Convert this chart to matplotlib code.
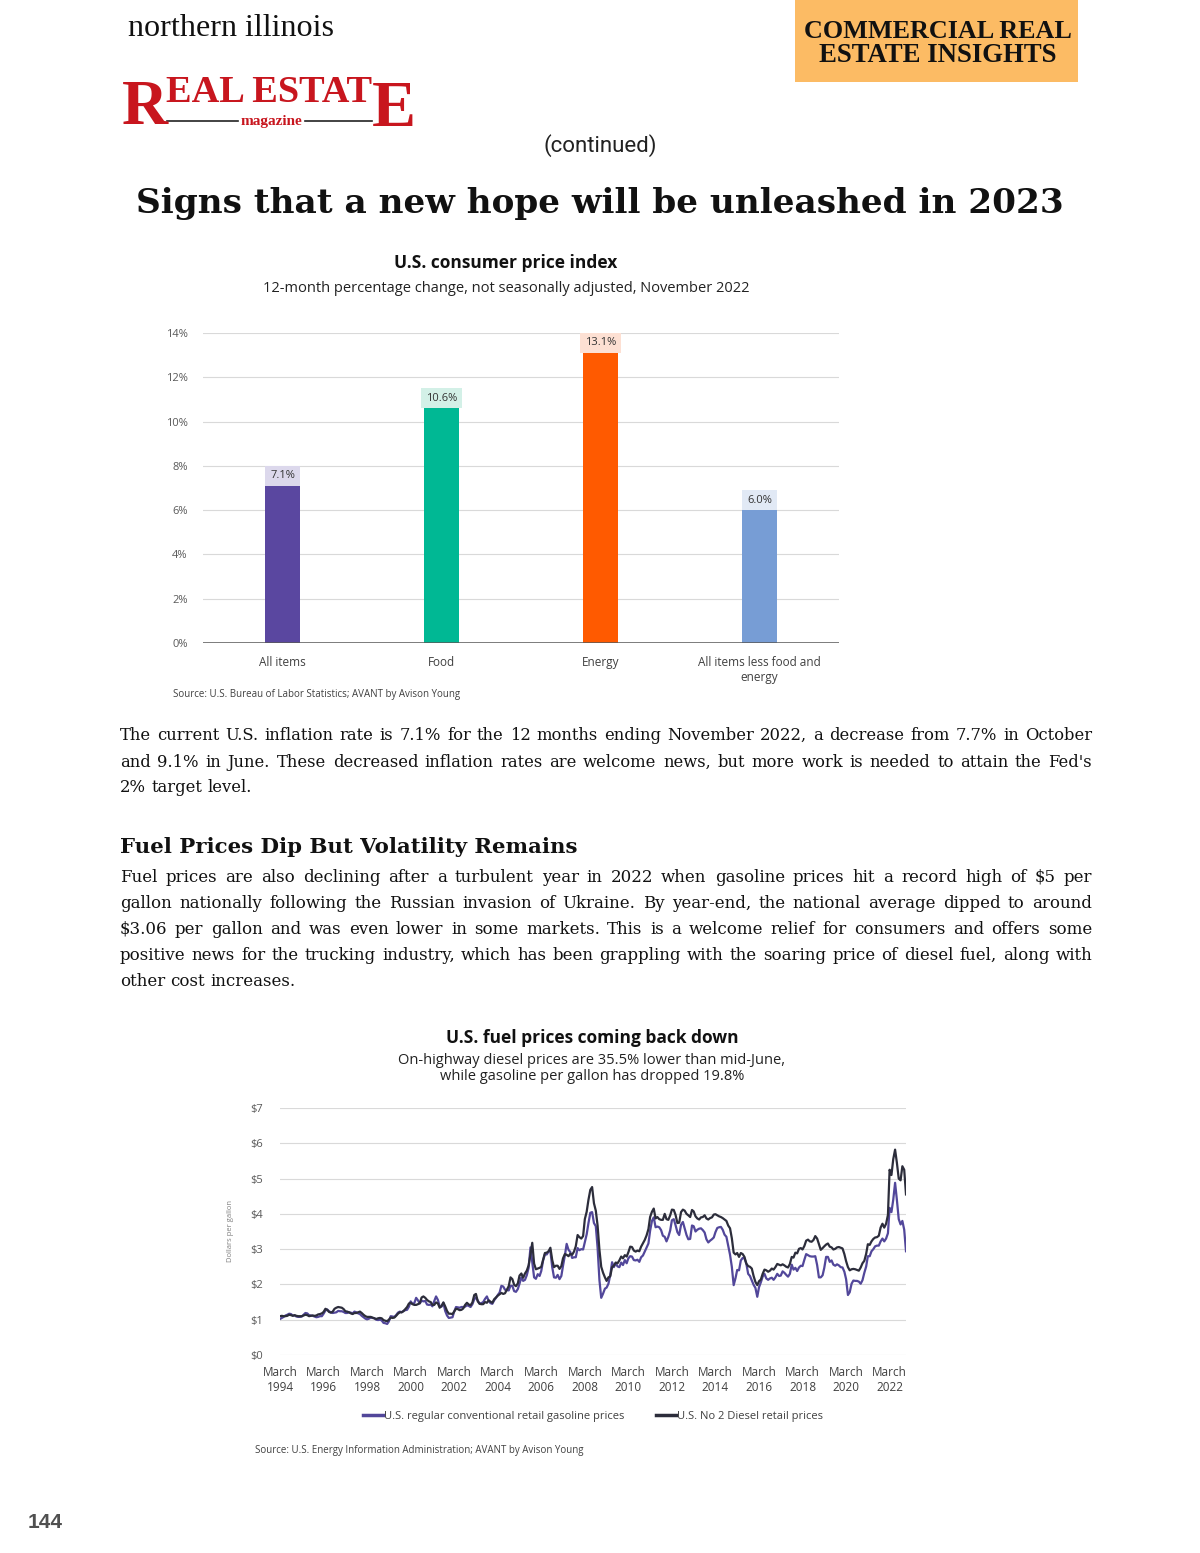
import matplotlib
matplotlib.use("Agg")
import matplotlib.pyplot as plt
import matplotlib.patches as mpatches
from matplotlib.lines import Line2D
import pandas as pd

W, H, DPI = 1200, 1553, 100

# ---------------- data ----------------
cpi_categories = ["All items", "Food", "Energy", "All items less food and\nenergy"]
cpi_values = [7.1, 10.6, 13.1, 6.0]
cpi_value_labels = ["7.1%", "10.6%", "13.1%", "6.0%"]
cpi_colors = ["#5a47a0", "#00b894", "#ff5a00", "#779dd5"]
cpi_label_bg = ["#dcd8ec", "#d3f0e7", "#fde0d3", "#e1e9f5"]
cpi_yticks = [0, 2, 4, 6, 8, 10, 12, 14]
cpi_ytick_labels = ["0%", "2%", "4%", "6%", "8%", "10%", "12%", "14%"]

fuel_start, fuel_end = "1994-03-01", "2022-12-01"
gasoline = [
    1.02, 1.05, 1.08, 1.12, 1.14, 1.17, 1.16, 1.12, 1.12, 1.09,  # 1994 Mar-Dec
    1.08, 1.08, 1.09, 1.14, 1.19, 1.18, 1.13, 1.12, 1.11, 1.09, 1.07, 1.08,  # 1995
    1.10, 1.10, 1.17, 1.26, 1.29, 1.24, 1.21, 1.19, 1.20, 1.21, 1.25, 1.24,  # 1996
    1.24, 1.22, 1.19, 1.19, 1.21, 1.20, 1.18, 1.23, 1.21, 1.18, 1.16, 1.11,  # 1997
    1.07, 1.03, 1.01, 1.03, 1.06, 1.05, 1.04, 1.00, 0.99, 1.00, 0.98, 0.91,  # 1998
    0.90, 0.88, 0.95, 1.10, 1.09, 1.08, 1.13, 1.20, 1.23, 1.21, 1.25, 1.27,  # 1999
    1.28, 1.37, 1.52, 1.45, 1.47, 1.62, 1.55, 1.46, 1.54, 1.52, 1.53, 1.43,  # 2000
    1.42, 1.43, 1.38, 1.53, 1.66, 1.56, 1.38, 1.37, 1.48, 1.25, 1.12, 1.05,  # 2001
    1.06, 1.07, 1.23, 1.36, 1.35, 1.34, 1.36, 1.36, 1.37, 1.41, 1.39, 1.36,  # 2002
    1.44, 1.58, 1.63, 1.54, 1.46, 1.47, 1.50, 1.59, 1.66, 1.53, 1.47, 1.45,  # 2003
    1.55, 1.62, 1.70, 1.77, 1.96, 1.94, 1.85, 1.84, 1.83, 1.96, 1.96, 1.81,  # 2004
    1.79, 1.87, 2.02, 2.20, 2.10, 2.13, 2.26, 2.47, 3.05, 2.62, 2.20, 2.16,  # 2005
    2.29, 2.24, 2.38, 2.68, 2.85, 2.85, 2.93, 2.95, 2.49, 2.20, 2.19, 2.27,  # 2006
    2.15, 2.24, 2.53, 2.82, 3.15, 2.98, 2.92, 2.75, 2.77, 2.77, 3.03, 2.97,  # 2007
    3.00, 2.99, 3.20, 3.42, 3.74, 4.03, 4.05, 3.74, 3.65, 3.04, 2.12, 1.62,  # 2008
    1.74, 1.88, 1.91, 2.02, 2.26, 2.63, 2.49, 2.60, 2.51, 2.49, 2.62, 2.55,  # 2009
    2.69, 2.60, 2.74, 2.80, 2.79, 2.69, 2.68, 2.70, 2.64, 2.77, 2.82, 2.93,  # 2010
    3.04, 3.16, 3.52, 3.80, 3.90, 3.62, 3.64, 3.62, 3.54, 3.38, 3.35, 3.22,  # 2011
    3.35, 3.53, 3.82, 3.85, 3.68, 3.48, 3.40, 3.69, 3.77, 3.59, 3.40, 3.28,  # 2012
    3.29, 3.67, 3.65, 3.50, 3.55, 3.58, 3.59, 3.54, 3.47, 3.28, 3.19, 3.24,  # 2013
    3.28, 3.33, 3.48, 3.60, 3.62, 3.63, 3.55, 3.41, 3.35, 3.10, 2.84, 2.50,  # 2014
    1.98, 2.18, 2.41, 2.40, 2.68, 2.75, 2.74, 2.59, 2.30, 2.24, 2.11, 1.99,  # 2015
    1.90, 1.65, 1.92, 2.06, 2.22, 2.30, 2.17, 2.13, 2.17, 2.19, 2.13, 2.20,  # 2016
    2.30, 2.24, 2.25, 2.37, 2.33, 2.27, 2.22, 2.30, 2.56, 2.42, 2.47, 2.38,  # 2017
    2.48, 2.53, 2.52, 2.70, 2.86, 2.83, 2.80, 2.79, 2.79, 2.80, 2.55, 2.20,  # 2018
    2.20, 2.26, 2.47, 2.78, 2.78, 2.64, 2.68, 2.56, 2.53, 2.57, 2.54, 2.49,  # 2019
    2.48, 2.36, 2.15, 1.70, 1.78, 2.02, 2.11, 2.10, 2.10, 2.08, 2.02, 2.12,  # 2020
    2.33, 2.51, 2.80, 2.80, 2.94, 3.00, 3.08, 3.10, 3.10, 3.22, 3.30, 3.22,  # 2021
    3.30, 3.45, 4.17, 4.05, 4.40, 4.88, 4.40, 3.85, 3.70, 3.80, 3.55, 2.94,  # 2022
]
diesel = [
    1.10, 1.11, 1.10, 1.10, 1.11, 1.14, 1.13, 1.11, 1.13, 1.11,  # 1994 Mar-Dec
    1.10, 1.10, 1.10, 1.12, 1.14, 1.13, 1.10, 1.11, 1.12, 1.11, 1.12, 1.15,  # 1995
    1.16, 1.18, 1.22, 1.31, 1.28, 1.22, 1.20, 1.23, 1.31, 1.34, 1.36, 1.35,  # 1996
    1.34, 1.30, 1.24, 1.23, 1.21, 1.18, 1.16, 1.19, 1.19, 1.21, 1.23, 1.19,  # 1997
    1.14, 1.10, 1.08, 1.08, 1.08, 1.06, 1.04, 1.02, 1.04, 1.05, 1.04, 0.99,  # 1998
    0.97, 0.96, 1.00, 1.06, 1.05, 1.06, 1.11, 1.17, 1.21, 1.21, 1.24, 1.30,  # 1999
    1.36, 1.46, 1.48, 1.44, 1.42, 1.42, 1.44, 1.47, 1.63, 1.66, 1.62, 1.56,  # 2000
    1.52, 1.50, 1.42, 1.42, 1.49, 1.46, 1.34, 1.39, 1.49, 1.38, 1.25, 1.17,  # 2001
    1.17, 1.16, 1.23, 1.31, 1.30, 1.27, 1.28, 1.32, 1.42, 1.48, 1.43, 1.41,  # 2002
    1.49, 1.70, 1.73, 1.52, 1.45, 1.44, 1.44, 1.50, 1.48, 1.55, 1.51, 1.48,  # 2003
    1.58, 1.63, 1.68, 1.72, 1.76, 1.73, 1.75, 1.85, 1.95, 2.20, 2.15, 1.99,  # 2004
    1.95, 2.03, 2.25, 2.31, 2.19, 2.31, 2.39, 2.54, 2.85, 3.18, 2.59, 2.43,  # 2005
    2.45, 2.47, 2.50, 2.70, 2.89, 2.90, 2.94, 3.04, 2.69, 2.49, 2.53, 2.53,  # 2006
    2.44, 2.52, 2.74, 2.86, 2.84, 2.80, 2.87, 2.84, 2.93, 3.08, 3.40, 3.34,  # 2007
    3.30, 3.37, 3.85, 4.06, 4.40, 4.68, 4.76, 4.30, 4.09, 3.67, 2.98, 2.50,  # 2008
    2.33, 2.20, 2.10, 2.20, 2.23, 2.49, 2.53, 2.62, 2.60, 2.68, 2.79, 2.74,  # 2009
    2.83, 2.79, 2.91, 3.07, 3.06, 2.96, 2.93, 2.96, 2.94, 3.07, 3.17, 3.26,  # 2010
    3.39, 3.57, 3.91, 4.06, 4.15, 3.87, 3.91, 3.85, 3.83, 3.83, 4.00, 3.85,  # 2011
    3.83, 3.96, 4.12, 4.11, 3.97, 3.74, 3.75, 4.05, 4.12, 4.09, 4.00, 3.96,  # 2012
    3.91, 4.11, 4.07, 3.93, 3.87, 3.84, 3.90, 3.91, 3.96, 3.87, 3.84, 3.88,  # 2013
    3.90, 3.98, 3.99, 3.96, 3.93, 3.91, 3.88, 3.84, 3.80, 3.67, 3.59, 3.31,  # 2014
    2.90, 2.85, 2.89, 2.78, 2.89, 2.86, 2.78, 2.59, 2.52, 2.50, 2.45, 2.24,  # 2015
    2.07, 1.98, 2.09, 2.14, 2.30, 2.42, 2.40, 2.36, 2.39, 2.45, 2.42, 2.49,  # 2016
    2.58, 2.56, 2.54, 2.57, 2.54, 2.50, 2.48, 2.58, 2.78, 2.76, 2.90, 2.88,  # 2017
    3.01, 3.03, 2.99, 3.09, 3.24, 3.27, 3.22, 3.21, 3.26, 3.37, 3.30, 3.14,  # 2018
    2.98, 3.03, 3.08, 3.13, 3.16, 3.07, 3.05, 2.99, 3.01, 3.05, 3.06, 3.04,  # 2019
    3.02, 2.86, 2.66, 2.49, 2.40, 2.43, 2.44, 2.43, 2.41, 2.39, 2.48, 2.60,  # 2020
    2.67, 2.87, 3.14, 3.12, 3.22, 3.29, 3.33, 3.34, 3.38, 3.61, 3.72, 3.61,  # 2021
    3.72, 3.97, 5.25, 5.10, 5.55, 5.82, 5.45, 5.00, 4.95, 5.35, 5.25, 4.55,  # 2022
]
fuel_yticks = [0, 1, 2, 3, 4, 5, 6, 7]
fuel_ytick_labels = ["$0", "$1", "$2", "$3", "$4", "$5", "$6", "$7"]
fuel_xtick_years = [1994, 1996, 1998, 2000, 2002, 2004, 2006, 2008,
                    2010, 2012, 2014, 2016, 2018, 2020, 2022]
fuel_series_names = ["U.S. regular conventional retail gasoline prices",
                     "U.S. No 2 Diesel retail prices"]
fuel_colors = ["#52479a", "#2c2d3b"]

para1 = [
    "The current U.S. inflation rate is 7.1% for the 12 months ending November 2022, a decrease from 7.7% in October",
    "and 9.1% in June. These decreased inflation rates are welcome news, but more work is needed to attain the Fed's",
    "2% target level.",
]
para2 = [
    "Fuel prices are also declining after a turbulent year in 2022 when gasoline prices hit a record high of $5 per",
    "gallon nationally following the Russian invasion of Ukraine. By year-end, the national average dipped to around",
    "$3.06 per gallon and was even lower in some markets. This is a welcome relief for consumers and offers some",
    "positive news for the trucking industry, which has been grappling with the soaring price of diesel fuel, along with",
    "other cost increases.",
]

# ---------------- helpers ----------------
fig = plt.figure(figsize=(W / DPI, H / DPI), dpi=DPI)
fig.patch.set_facecolor("white")
renderer = fig.canvas.get_renderer()

LOGO_SERIF = "Liberation Serif"


def fx(x):
    return x / W


def fy(y):
    return 1 - y / H


def width_of(t):
    return t.get_window_extent(renderer=renderer).width


def ftext(x, y, s, **kw):
    return fig.text(fx(x), fy(y), s, **kw)


def fit_text(x0, x1, y, s, size, ha="left", **kw):
    t = ftext(x0, y, s, fontsize=size, ha="left", **kw)
    w = width_of(t)
    t.set_fontsize(size * (x1 - x0) / w)
    if ha == "center":
        t.set_x(fx((x0 + x1) / 2))
        t.set_ha("center")
    return t


def justify(lines, x0, x1, ys, size, **kw):
    # choose a size so the widest full line fits naturally
    nat = []
    for line in lines[:-1]:
        t = ftext(0, 0, line, fontsize=size, **kw)
        nat.append(width_of(t))
        t.remove()
    size = size * min(1.0, 0.99 * (x1 - x0) / max(nat))
    probe_a = ftext(0, 0, "aa", fontsize=size, **kw)
    probe_b = ftext(0, 0, "a a", fontsize=size, **kw)
    space = width_of(probe_b) - width_of(probe_a)
    probe_a.remove()
    probe_b.remove()
    for i, (line, y) in enumerate(zip(lines, ys)):
        words = line.split(" ")
        ts = [ftext(x0, y, w, fontsize=size, ha="left", va="center", **kw) for w in words]
        ws = [width_of(t) for t in ts]
        last = i == len(lines) - 1
        gap = space if last else (x1 - x0 - sum(ws)) / (len(words) - 1)
        x = x0
        for t, w in zip(ts, ws):
            t.set_x(fx(x))
            x += w + gap


# ---------------- header ----------------
fit_text(128, 335, 28, "northern illinois", 26, family=LOGO_SERIF,
         va="center", color="#111111")
red = "#c8161e"
rt = ftext(122, 124, "R", fontsize=60, family=LOGO_SERIF, weight="bold",
           color=red, va="baseline")
rt.set_fontsize(60 * 46 / width_of(rt))
mid = ftext(166, 102, "EAL ESTAT", fontsize=40, family=LOGO_SERIF, weight="bold",
            color=red, va="baseline")
mid.set_fontsize(40 * (372 - 166) / width_of(mid))
et = ftext(372, 126, "E", fontsize=56, family=LOGO_SERIF, weight="bold",
           color=red, va="baseline")
et.set_fontsize(56 * 44 / width_of(et))
ftext(271, 121, "magazine", fontsize=11, family=LOGO_SERIF, weight="bold",
      color=red, va="center", ha="center")
fig.add_artist(Line2D([fx(167), fx(238)], [fy(121), fy(121)], color="#222222", lw=1.2))
fig.add_artist(Line2D([fx(305), fx(372)], [fy(121), fy(121)], color="#222222", lw=1.2))

fig.add_artist(mpatches.Rectangle((fx(795), fy(82)), (1078 - 795) / W, 82 / H,
                                  transform=fig.transFigure, facecolor="#fcbb64",
                                  edgecolor="none"))
fit_text(804, 1071, 31, "COMMERCIAL REAL", 20, ha="center",
         family="Liberation Serif", weight="bold", va="center", color="#111111")
fit_text(819, 1056, 56, "ESTATE INSIGHTS", 20, ha="center",
         family="Liberation Serif", weight="bold", va="center", color="#111111")

ftext(600, 146, "(continued)", fontsize=16, family="Roboto", ha="center",
      va="center", color="#222222")
fit_text(135, 1064, 203, "Signs that a new hope will be unleashed in 2023", 28,
         ha="center", family="DejaVu Serif", weight="bold", va="center",
         color="#111111")

# ---------------- chart 1: CPI bars ----------------
ftext(506, 263, "U.S. consumer price index", fontsize=12.5, family="Open Sans",
      weight="bold", ha="center", va="center", color="#111111")
ftext(506, 288, "12-month percentage change, not seasonally adjusted, November 2022",
      fontsize=10.5, family="Open Sans", ha="center", va="center", color="#222222")

ax1 = fig.add_axes([fx(203), fy(643), (839 - 203) / W, (643 - 333) / H])
xs = list(range(len(cpi_categories)))
ax1.bar(xs, cpi_values, width=0.22, color=cpi_colors, zorder=3)
ax1.set_xlim(-0.5, len(cpi_categories) - 0.5)
ax1.set_ylim(0, 14)
ax1.set_yticks(cpi_yticks)
ax1.set_yticklabels(cpi_ytick_labels)
ax1.set_xticks(xs)
ax1.set_xticklabels(cpi_categories)
for sp in ax1.spines.values():
    sp.set_visible(False)
ax1.grid(axis="y", color="#d9d9d9", lw=0.8, zorder=0)
ax1.axhline(0, color="#595959", lw=1.1, zorder=4)
ax1.tick_params(axis="y", length=0, pad=11, labelsize=8, labelcolor="#595959")
ax1.tick_params(axis="x", length=0, pad=9, labelsize=8.5, labelcolor="#404040")
for lab in ax1.get_xticklabels() + ax1.get_yticklabels():
    lab.set_family("Open Sans")
for x, v, s, bg in zip(xs, cpi_values, cpi_value_labels, cpi_label_bg):
    ax1.annotate(s, (x, v), xytext=(0, 3.3), textcoords="offset points",
                 ha="center", va="bottom", fontsize=8, family="Open Sans",
                 color="#333333", zorder=5,
                 bbox=dict(boxstyle="square,pad=0.42", fc=bg, ec="none"))
ftext(173, 694, "Source: U.S. Bureau of Labor Statistics; AVANT by Avison Young",
      fontsize=7, family="Open Sans", va="center", color="#404040")

# ---------------- paragraphs ----------------
body_kw = dict(family="DejaVu Serif", color="#111111")
justify(para1, 120, 1092, [735, 762, 788], 12.4, **body_kw)
fit_text(120, 576, 847, "Fuel Prices Dip But Volatility Remains", 16,
         family="DejaVu Serif", weight="bold", va="center", color="#111111")
justify(para2, 120, 1092, [877, 903, 929, 955, 982], 12.4, **body_kw)

# ---------------- chart 2: fuel prices ----------------
ftext(592, 1038, "U.S. fuel prices coming back down", fontsize=12.5, family="Open Sans",
      weight="bold", ha="center", va="center", color="#111111")
ftext(592, 1061, "On-highway diesel prices are 35.5% lower than mid-June,",
      fontsize=10.5, family="Open Sans", ha="center", va="center", color="#222222")
ftext(592, 1077, "while gasoline per gallon has dropped 19.8%",
      fontsize=10.5, family="Open Sans", ha="center", va="center", color="#222222")

dates = pd.date_range(fuel_start, fuel_end, freq="MS")
assert len(dates) == len(gasoline) == len(diesel)
ax2 = fig.add_axes([fx(280), fy(1355), (906 - 280) / W, (1355 - 1108) / H])
ax2.plot(dates, gasoline, color=fuel_colors[0], lw=1.6, zorder=3)
ax2.plot(dates, diesel, color=fuel_colors[1], lw=1.6, zorder=4)
ax2.set_xlim(pd.Timestamp(fuel_start), pd.Timestamp(fuel_end))
ax2.set_ylim(0, 7)
ax2.set_yticks(fuel_yticks)
ax2.set_yticklabels(fuel_ytick_labels)
ax2.set_xticks([pd.Timestamp(f"{y}-03-01") for y in fuel_xtick_years])
ax2.set_xticklabels([f"March\n{y}" for y in fuel_xtick_years])
for sp in ax2.spines.values():
    sp.set_visible(False)
ax2.grid(axis="y", color="#d9d9d9", lw=0.8, zorder=0)
ax2.tick_params(axis="y", length=0, pad=12, labelsize=8, labelcolor="#595959")
ax2.tick_params(axis="x", length=0, pad=8, labelsize=8.5, labelcolor="#404040")
for lab in ax2.get_xticklabels() + ax2.get_yticklabels():
    lab.set_family("Open Sans")
    lab.set_linespacing(1.15)
ax2.set_ylabel("Dollars per gallon", fontsize=5.5, family="Open Sans",
               color="#808080", labelpad=12)
leg = ax2.legend([Line2D([], [], color=fuel_colors[0], lw=2.5),
                  Line2D([], [], color=fuel_colors[1], lw=2.5)],
                 fuel_series_names, loc="center", ncol=2, frameon=False,
                 bbox_to_anchor=(fx(593), fy(1416)), bbox_transform=fig.transFigure,
                 handlelength=1.8, handletextpad=0.1, columnspacing=2.8,
                 prop={"family": "Open Sans", "size": 8})
for t in leg.get_texts():
    t.set_color("#404040")
ftext(255, 1451, "Source: U.S. Energy Information Administration; AVANT by Avison Young",
      fontsize=7, family="Open Sans", va="center", color="#404040")

# ---------------- page number ----------------
ftext(28, 1522, "144", fontsize=15, family="Liberation Sans", weight="bold",
      va="center", color="#505050")

fig.savefig("out.png", dpi=DPI, facecolor="white")
